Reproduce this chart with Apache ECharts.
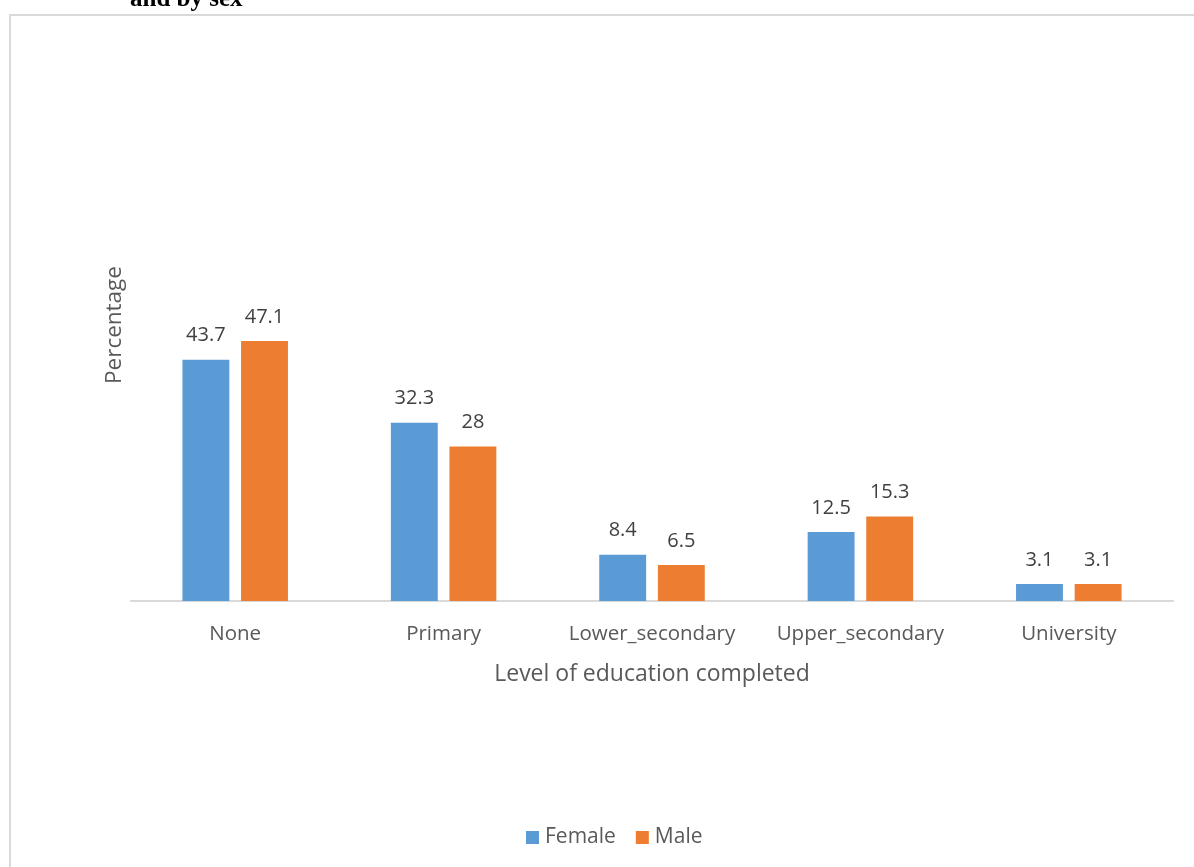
<!DOCTYPE html>
<html>
<head>
<meta charset="utf-8">
<script src="https://cdn.jsdelivr.net/npm/echarts@6/dist/echarts.min.js"></script>
<style>
html,body{margin:0;padding:0;background:#fff;}
#c{width:1194px;height:867px;}
</style>
</head>
<body>
<div id="c"></div>
<script>
const categories = ['None', 'Primary', 'Lower_secondary', 'Upper_secondary', 'University'];
const female = [43.7, 32.3, 8.4, 12.5, 3.1];
const male = [47.1, 28, 6.5, 15.3, 3.1];
const seriesNames = ['Female', 'Male'];

const FONT = '"Open Sans", "DejaVu Sans", sans-serif';
const chart = echarts.init(document.getElementById('c'), null, {renderer: 'canvas'});
const labelStyle = {show: true, position: 'top', distance: 14, color: '#404040', fontSize: 20, fontFamily: FONT};
chart.setOption({
  animation: false,
  backgroundColor: '#fff',
  graphic: [
    {type: 'rect', shape: {x: 10, y: 15, width: 1200, height: 900}, style: {fill: 'none', stroke: '#d9d9d9', lineWidth: 2}, z: -1},
    {type: 'text', left: 130, top: -13, style: {text: 'and by sex', font: 'bold 25px "Liberation Serif", serif', fill: '#000'}}
  ],
  grid: {left: 131, right: 21, top: 49, bottom: 266, containLabel: false},
  legend: {
    data: seriesNames,
    bottom: 14,
    left: 521,
    itemWidth: 13, itemHeight: 13, itemGap: 20,
    icon: 'rect',
    textStyle: {color: '#595959', fontSize: 21, fontFamily: FONT, padding: [0, 0, 0, 1]}
  },
  xAxis: {
    type: 'category',
    data: categories,
    name: 'Level of education completed',
    nameLocation: 'middle',
    nameGap: 62,
    nameTextStyle: {color: '#595959', fontSize: 23, fontFamily: FONT},
    axisLine: {lineStyle: {color: '#d9d9d9', width: 2}},
    axisTick: {show: false},
    axisLabel: {color: '#595959', fontSize: 20.5, fontFamily: FONT, margin: 23, interval: 0}
  },
  yAxis: {
    type: 'value',
    min: 0, max: 100,
    name: 'Percentage',
    nameLocation: 'middle',
    nameRotate: 90,
    nameGap: 5,
    nameTextStyle: {color: '#595959', fontSize: 22.5, fontFamily: FONT},
    axisLine: {show: false},
    axisTick: {show: false},
    axisLabel: {show: false},
    splitLine: {show: false}
  },
  series: [
    {name: seriesNames[0], type: 'bar', data: female, barWidth: '22.5%', barGap: '25%', itemStyle: {color: '#5b9bd5'}, label: labelStyle},
    {name: seriesNames[1], type: 'bar', data: male, barWidth: '22.5%', barGap: '25%', itemStyle: {color: '#ed7d31'}, label: labelStyle}
  ]
});
</script>
</body>
</html>
